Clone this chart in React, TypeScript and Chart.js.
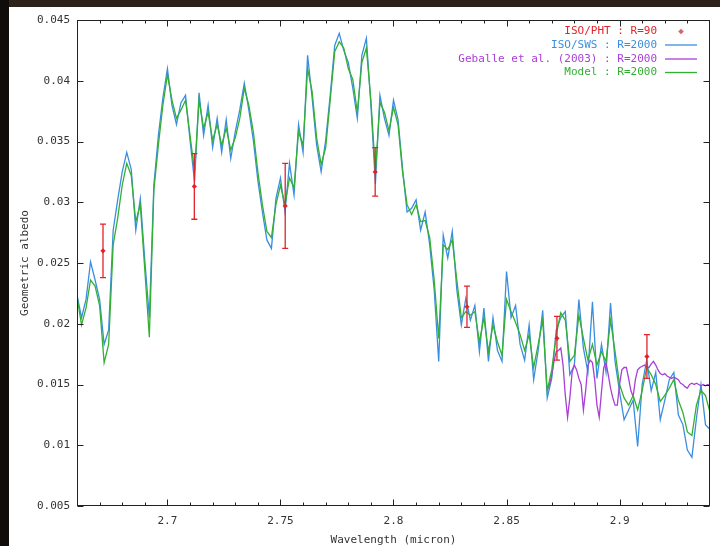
import React, { useEffect, useRef } from "react";
import { Chart, registerables } from "chart.js";
Chart.register(...registerables);

// ---------- axes ----------
const X_MIN = 2.66;
const X_MAX = 2.94;
const Y_MIN = 0.005;
const Y_MAX = 0.045;
const xTickValues = [2.7, 2.75, 2.8, 2.85, 2.9];
const xTickLabels = ["2.7", "2.75", "2.8", "2.85", "2.9"];
const xMinorTicks = [
  2.67, 2.68, 2.69, 2.71, 2.72, 2.73, 2.74, 2.76, 2.77, 2.78, 2.79, 2.81, 2.82,
  2.83, 2.84, 2.86, 2.87, 2.88, 2.89, 2.91, 2.92, 2.93,
];
const yTickValues = [0.005, 0.01, 0.015, 0.02, 0.025, 0.03, 0.035, 0.04, 0.045];
const yTickLabels = ["0.005", "0.01", "0.015", "0.02", "0.025", "0.03", "0.035", "0.04", "0.045"];
const xTitle = "Wavelength (micron)";
const yTitle = "Geometric albedo";

// ---------- spectra (sampled every 0.002 micron from 2.66) ----------
const gridStart = 2.66;
const gridStep = 0.002;
const modelValues = [
  0.0222, 0.0199, 0.0213, 0.0236, 0.0231, 0.0215, 0.0168, 0.0183, 0.0265, 0.0287,
  0.0314, 0.0332, 0.0322, 0.0284, 0.0298, 0.0244, 0.0189, 0.0310, 0.0347, 0.0380,
  0.0405, 0.0384, 0.0369, 0.0376, 0.0384, 0.0355, 0.0325, 0.0384, 0.0361, 0.0374,
  0.0351, 0.0364, 0.0347, 0.0361, 0.0343, 0.0353, 0.0369, 0.0394, 0.0380, 0.0358,
  0.0325, 0.0298, 0.0276, 0.0271, 0.0298, 0.0314, 0.0298, 0.0320, 0.0312, 0.0358,
  0.0347, 0.0410, 0.0391, 0.0353, 0.0331, 0.0345, 0.0384, 0.0424, 0.0432, 0.0427,
  0.0410, 0.0401, 0.0374, 0.0415, 0.0427, 0.0384, 0.0325, 0.0382, 0.0374, 0.0359,
  0.0378, 0.0364, 0.0325, 0.0298, 0.0290, 0.0298, 0.0284, 0.0285, 0.0271, 0.0236,
  0.0188, 0.0265, 0.0261, 0.0269, 0.0236, 0.0205, 0.0210, 0.0207, 0.0210, 0.0185,
  0.0205, 0.0177, 0.0199, 0.0185, 0.0174, 0.0220, 0.0210, 0.0201, 0.0191, 0.0178,
  0.0191, 0.0164, 0.0183, 0.0203, 0.0145, 0.0162, 0.0191, 0.0209, 0.0203, 0.0169,
  0.0174, 0.0207, 0.0188, 0.0170, 0.0183, 0.0166, 0.0177, 0.0169, 0.0203, 0.0177,
  0.0150, 0.0139, 0.0133, 0.0141, 0.0129, 0.0145, 0.0164, 0.0158, 0.0150, 0.0136,
  0.0141, 0.0147, 0.0154, 0.0137, 0.0127, 0.0111, 0.0108, 0.0133, 0.0145, 0.0141,
  0.0127,
];
const swsValues = [
  0.0224, 0.0205, 0.0220, 0.0251, 0.0236, 0.0220, 0.0183, 0.0195, 0.0277, 0.0302,
  0.0325, 0.0341, 0.0327, 0.0277, 0.0303, 0.0252, 0.0205, 0.0314, 0.0355, 0.0386,
  0.0410, 0.0380, 0.0364, 0.0382, 0.0388, 0.0351, 0.0317, 0.0390, 0.0355, 0.0380,
  0.0345, 0.0369, 0.0341, 0.0368, 0.0336, 0.0358, 0.0376, 0.0398, 0.0376, 0.0351,
  0.0318, 0.0292, 0.0269, 0.0262, 0.0303, 0.0320, 0.0292, 0.0332, 0.0306, 0.0364,
  0.0341, 0.0421, 0.0386, 0.0347, 0.0325, 0.0351, 0.0388, 0.0429, 0.0439, 0.0425,
  0.0415, 0.0394, 0.0369, 0.0421, 0.0435, 0.0380, 0.0315, 0.0388, 0.0369, 0.0355,
  0.0384, 0.0368, 0.0328, 0.0292, 0.0295, 0.0302, 0.0277, 0.0292, 0.0265, 0.0228,
  0.0169, 0.0273, 0.0254, 0.0276, 0.0228, 0.0199, 0.0221, 0.0203, 0.0215, 0.0177,
  0.0213, 0.0169, 0.0205, 0.0178, 0.0169, 0.0243, 0.0205, 0.0215, 0.0183, 0.0170,
  0.0199, 0.0154, 0.0178, 0.0211, 0.0139, 0.0155, 0.0195, 0.0205, 0.0210, 0.0158,
  0.0166, 0.0220, 0.0180, 0.0160, 0.0218, 0.0155, 0.0183, 0.0160, 0.0217, 0.0169,
  0.0144, 0.0121, 0.0129, 0.0137, 0.0099, 0.0150, 0.0170, 0.0145, 0.0160, 0.0121,
  0.0137, 0.0154, 0.0160, 0.0125, 0.0117, 0.0096, 0.0090, 0.0122, 0.0150, 0.0117,
  0.0113,
];
// Geballe et al. (2003), sampled every 0.001 micron from 2.868
const geballeStart = 2.868;
const geballeStep = 0.001;
const geballeValues = [
  0.0145, 0.0150, 0.0158, 0.0169, 0.0177, 0.0178, 0.0180, 0.0166, 0.0141, 0.0123,
  0.0139, 0.0160, 0.0166, 0.0162, 0.0155, 0.0150, 0.0129, 0.0145, 0.0166, 0.0170,
  0.0168, 0.0154, 0.0133, 0.0123, 0.0144, 0.0164, 0.0168, 0.0158, 0.0147, 0.0139,
  0.0133, 0.0133, 0.0150, 0.0162, 0.0164, 0.0164, 0.0155, 0.0145, 0.0140, 0.0154,
  0.0162, 0.0164, 0.0165, 0.0166, 0.0164, 0.0164, 0.0167, 0.0169, 0.0166, 0.0162,
  0.0159, 0.0158, 0.0159, 0.0157, 0.0156, 0.0155, 0.0156, 0.0155, 0.0154, 0.0151,
  0.0150, 0.0148, 0.0147, 0.0150, 0.0151, 0.0150, 0.0151, 0.0150, 0.0149, 0.0150,
  0.0149, 0.0150, 0.0149,
];
// ISO/PHT photometry with error bars
const phtWavelengths = [2.6715, 2.7119, 2.7521, 2.7919, 2.8325, 2.8723, 2.9121];
const phtValues = [0.026, 0.0313, 0.0297, 0.0325, 0.0214, 0.0188, 0.0173];
const phtErrors = [0.0022, 0.0027, 0.0035, 0.002, 0.0017, 0.0018, 0.0018];

const legendLabels = [
  "ISO/PHT : R=90",
  "ISO/SWS : R=2000",
  "Geballe et al. (2003) : R=2000",
  "Model : R=2000",
];
const COL_PHT = "#e0242c";
const COL_PHT_MARK = "#e0606a";
const COL_SWS = "#3a8ee0";
const COL_GEB = "#a93fd6";
const COL_MOD = "#33b033";
const legendColors = [COL_PHT, COL_SWS, COL_GEB, COL_MOD];
const FONT = "11px 'DejaVu Sans Mono', monospace";

const toPoints = (start: number, step: number, vals: number[]) =>
  vals.map((v, i) => ({ x: +(start + i * step).toFixed(4), y: v }));

const decorPlugin = {
  id: "decor",
  afterDatasetsDraw(chart: any) {
    const ctx = chart.ctx;
    const xs = chart.scales.x;
    const ys = chart.scales.y;
    // error bars
    ctx.save();
    ctx.strokeStyle = COL_PHT;
    ctx.lineWidth = 1.3;
    phtWavelengths.forEach((w, i) => {
      const px = xs.getPixelForValue(w);
      const top = ys.getPixelForValue(phtValues[i] + phtErrors[i]);
      const bot = ys.getPixelForValue(phtValues[i] - phtErrors[i]);
      ctx.beginPath();
      ctx.moveTo(px, top);
      ctx.lineTo(px, bot);
      ctx.moveTo(px - 3, top);
      ctx.lineTo(px + 3, top);
      ctx.moveTo(px - 3, bot);
      ctx.lineTo(px + 3, bot);
      ctx.stroke();
    });
    ctx.restore();
  },
  afterDraw(chart: any) {
    const ctx = chart.ctx;
    const xs = chart.scales.x;
    const ys = chart.scales.y;
    const { left, right, top, bottom } = chart.chartArea;
    const L = Math.round(left) + 0.5;
    const R = Math.round(right) - 0.5;
    const T = Math.round(top) + 0.5;
    const B = Math.round(bottom) - 0.5;
    ctx.save();
    ctx.strokeStyle = "#222";
    ctx.lineWidth = 1;
    ctx.strokeRect(L, T, R - L, B - T);
    ctx.beginPath();
    xTickValues.forEach((v) => {
      const px = Math.round(xs.getPixelForValue(v)) + 0.5;
      ctx.moveTo(px, B); ctx.lineTo(px, B - 6);
      ctx.moveTo(px, T); ctx.lineTo(px, T + 6);
    });
    xMinorTicks.forEach((v) => {
      const px = Math.round(xs.getPixelForValue(v)) + 0.5;
      ctx.moveTo(px, B); ctx.lineTo(px, B - 3);
      ctx.moveTo(px, T); ctx.lineTo(px, T + 3);
    });
    yTickValues.forEach((v) => {
      const py = Math.round(ys.getPixelForValue(v)) + 0.5;
      ctx.moveTo(L, py); ctx.lineTo(L + 6, py);
      ctx.moveTo(R, py); ctx.lineTo(R - 6, py);
    });
    ctx.stroke();

    ctx.font = FONT;
    ctx.fillStyle = "#333";
    ctx.textAlign = "right";
    ctx.textBaseline = "middle";
    yTickValues.forEach((v, i) => {
      ctx.fillText(yTickLabels[i], left - 7, ys.getPixelForValue(v));
    });
    ctx.textAlign = "center";
    xTickValues.forEach((v, i) => {
      ctx.fillText(xTickLabels[i], xs.getPixelForValue(v), bottom + 15);
    });
    ctx.fillText(xTitle, (left + right) / 2, bottom + 34);
    ctx.save();
    ctx.translate(25, (top + bottom) / 2);
    ctx.rotate(-Math.PI / 2);
    ctx.fillText(yTitle, 0, 0);
    ctx.restore();

    // legend
    const rowY = [31.5, 45, 59, 72.5];
    ctx.textAlign = "right";
    legendLabels.forEach((lab, i) => {
      ctx.fillStyle = legendColors[i];
      ctx.fillText(lab, 657, rowY[i]);
      if (i === 0) {
        ctx.fillStyle = COL_PHT_MARK;
        ctx.beginPath();
        ctx.moveTo(681, rowY[i] - 2.8);
        ctx.lineTo(683.8, rowY[i]);
        ctx.lineTo(681, rowY[i] + 2.8);
        ctx.lineTo(678.2, rowY[i]);
        ctx.closePath();
        ctx.fill();
      } else {
        ctx.strokeStyle = legendColors[i];
        ctx.lineWidth = 1.3;
        ctx.beginPath();
        ctx.moveTo(665, rowY[i]);
        ctx.lineTo(697, rowY[i]);
        ctx.stroke();
      }
    });
    ctx.restore();
  },
};

export default function App() {
  const ref = useRef<HTMLCanvasElement | null>(null);
  useEffect(() => {
    if (!ref.current) return;
    const chart = new Chart(ref.current, {
      type: "line",
      data: {
        datasets: [
          {
            label: legendLabels[0],
            data: phtWavelengths.map((w, i) => ({ x: w, y: phtValues[i] })),
            showLine: false,
            pointStyle: "rectRot",
            pointRadius: 2.6,
            pointBackgroundColor: COL_PHT,
            pointBorderWidth: 0,
            borderColor: COL_PHT,
            order: -1,
          },
          {
            label: legendLabels[3],
            data: toPoints(gridStart, gridStep, modelValues),
            borderColor: COL_MOD,
            borderWidth: 1.3,
            pointRadius: 0,
            tension: 0,
            order: 0,
          },
          {
            label: legendLabels[2],
            data: toPoints(geballeStart, geballeStep, geballeValues),
            borderColor: COL_GEB,
            borderWidth: 1.3,
            pointRadius: 0,
            tension: 0,
            order: 1,
          },
          {
            label: legendLabels[1],
            data: toPoints(gridStart, gridStep, swsValues),
            borderColor: COL_SWS,
            borderWidth: 1.3,
            pointRadius: 0,
            tension: 0,
            order: 2,
          },
        ],
      },
      options: {
        animation: false,
        responsive: false,
        devicePixelRatio: 1,
        layout: { padding: { left: 77, right: 10, top: 20, bottom: 40 } },
        plugins: { legend: { display: false }, tooltip: { enabled: false } },
        scales: {
          x: { type: "linear", min: X_MIN, max: X_MAX, display: false },
          y: { type: "linear", min: Y_MIN, max: Y_MAX, display: false },
        },
      },
      plugins: [decorPlugin],
    });
    return () => chart.destroy();
  }, []);

  return (
    <div style={{ position: "fixed", left: 0, top: 0, width: 720, height: 546, background: "#fff" }}>
      <canvas ref={ref} width={720} height={546} style={{ position: "absolute", left: 0, top: 0 }} />
      <div style={{ position: "absolute", left: 0, top: 0, width: 720, height: 7, background: "#2c2219" }} />
      <div style={{ position: "absolute", left: 0, top: 0, width: 9, height: 546, background: "#0f0c0a" }} />
    </div>
  );
}
